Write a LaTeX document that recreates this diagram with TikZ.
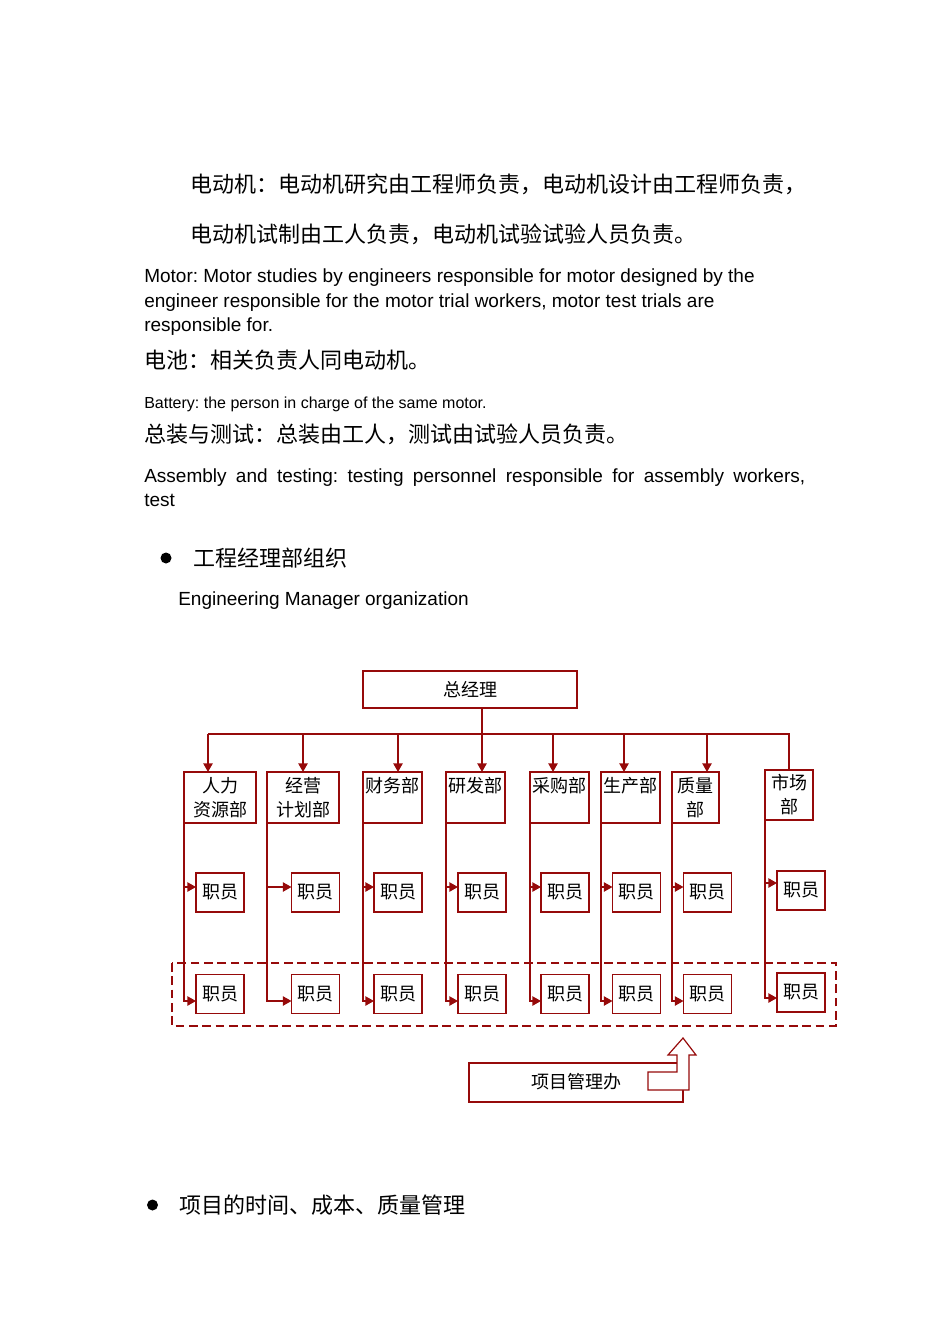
\documentclass[tikz,border=0pt]{standalone}
\usepackage{fontspec}
\setmainfont{Liberation Sans}
\newfontfamily\cjk{Noto Sans CJK SC}
\usetikzlibrary{arrows.meta,calc}
\definecolor{dred}{RGB}{150,10,10}
\frenchspacing
\begin{document}
\begin{tikzpicture}[x=0.75pt,y=-0.75pt,
  cnbig/.style={font=\cjk\fontsize{16.5pt}{20pt}\selectfont, anchor=base west, inner sep=0},
  en/.style={font=\fontsize{14.25pt}{18pt}\selectfont, anchor=base west, inner sep=0},
  ensmall/.style={font=\fontsize{12pt}{15pt}\selectfont, anchor=base west, inner sep=0},
  bullet/.style={circle, fill=black, minimum size=8.25pt, inner sep=0},
  box/.style={draw=dred, line width=0.9pt, fill=white, inner sep=0, outer sep=0, font=\cjk\fontsize{13.5pt}{18pt}\selectfont, align=center},
  staff/.style={box, minimum width=36pt, minimum height=29.25pt},
  dept/.style={box, minimum height=38.25pt},
  conn/.style={draw=dred, line width=1.1pt},
  arr/.style={conn, -{Triangle[length=6.5pt,width=7pt]}},
  heavy/.style={draw=dred, line width=1.6pt},
  dashbox/.style={draw=dred, line width=1pt, dash pattern=on 6.5pt off 3.5pt},
]
\useasboundingbox (0,0) rectangle (950,1344);
% ---------- text ----------
\node[cnbig] (l1) at (190,193) {电动机：电动机研究由工程师负责，电动机设计由工程师负责，};
\node[cnbig] (l2) at (190,243) {电动机试制由工人负责，电动机试验试验人员负责。};
\node[en] (e1) at (144,283) {Motor: Motor studies by engineers responsible for motor designed by the};
\node[en] (e2) at (144,307) {engineer responsible for the motor trial workers, motor test trials are};
\node[en] (e3) at (144,331) {responsible for.};
\node[cnbig] (l3) at (144,368) {电池：相关负责人同电动机。};
\node[ensmall] (e4) at (144,408) {Battery: the person in charge of the same motor.};
\node[cnbig] (l4) at (144,442) {总装与测试：总装由工人，测试由试验人员负责。};
\node[en] (e5) at (144,482) {\makebox[495.75pt][s]{Assembly and testing: testing personnel responsible for assembly workers,}};
\node[en] (e6) at (144,506) {test};
\node[bullet] (bu1) at (166,558) {};
\node[cnbig] (l5) at (193,566) {工程经理部组织};
\node[en] (e7) at (178,605) {Engineering Manager organization};
\node[bullet] (bu2) at (152.5,1205) {};
\node[cnbig] (l6) at (179,1213) {项目的时间、成本、质量管理};
% ---------- org chart ----------
\draw[dashbox] (172,963) rectangle (836,1026);
\node[box, minimum width=160.5pt, minimum height=27.75pt] (gm) at (470,689.5) {总经理};
\node[dept, minimum width=54pt] (hr) at (220,797.5) {人力\\资源部};
\node[dept, minimum width=54pt] (bp) at (303,797.5) {经营\\计划部};
\node[dept, minimum width=44.25pt] (fi) at (392.5,797.5) {财务部\\\phantom{部}};
\node[dept, minimum width=44.25pt] (rd) at (475.5,797.5) {研发部\\\phantom{部}};
\node[dept, minimum width=44.25pt] (pu) at (559.5,797.5) {采购部\\\phantom{部}};
\node[dept, minimum width=44.25pt] (pr) at (630.5,797.5) {生产部\\\phantom{部}};
\node[dept, minimum width=35.25pt] (qa) at (695.5,797.5) {质量\\部};
\node[box, minimum width=36pt, minimum height=37.5pt] (mk) at (789,795) {市场\\部};
\foreach \x [count=\i] in {220,315.5,398,482,565,636.5,707.5} {
  \node[staff] (s1\i) at (\x,892.5) {职员};
  \node[staff] (s2\i) at (\x,994) {职员};
}
\node[staff] (s18) at (801,890.5) {职员};
\node[staff] (s28) at (801,992.5) {职员};
% bus
\coordinate (b1) at (208,734);
\coordinate (b2) at (303,734);
\coordinate (b3) at (398,734);
\coordinate (b4) at (482,734);
\coordinate (b5) at (553,734);
\coordinate (b6) at (624,734);
\coordinate (b7) at (707,734);
\draw[conn] (b1) -- (b7);
\draw[conn] (b7) -- (mk.north |- b7) -- (mk.north);
\draw[arr] (gm.south -| b4) -- (b4 |- rd.north);
\foreach \b/\d in {b1/hr,b2/bp,b3/fi,b5/pu,b6/pr,b7/qa}
  \draw[arr] (\b) -- (\b |- \d.north);
% columns
\foreach \d/\i in {hr/1,bp/2,fi/3,rd/4,pu/5,pr/6,qa/7} {
  \coordinate (p1\i) at ($(s1\i.west)+(0,-5.5)$);
  \coordinate (p2\i) at ($(s2\i.west)+(0,7)$);
  \draw[arr] (\d.south west) |- (p2\i);
  \draw[arr] (\d.south west |- p1\i) -- (p1\i);
}
\coordinate (p18) at ($(s18.west)+(0,-7.5)$);
\coordinate (p28) at ($(s28.west)+(0,5.5)$);
\draw[arr] (mk.south west) |- (p28);
\draw[arr] (mk.south west |- p18) -- (p18);
% heavier edges
\foreach \n in {hr,bp,fi,rd,pu,pr,qa}
  \draw[heavy] (\n.south west) -- (\n.south east) -- (\n.north east);
\draw[heavy] (gm.north east) -- (gm.south east);
% project office
\node[box, minimum width=160.5pt, minimum height=29.25pt] (pm) at (576,1082.5) {\raisebox{2pt}{项目管理办}};
\draw[heavy] (pm.north west) -- (pm.north east);
\draw[dred, line width=0.9pt, fill=white] (648,1072) -- (677,1072) -- (677,1055) -- (668,1055) -- (683,1038) -- (696,1055) -- (689,1055) -- (689,1090) -- (648,1090) -- cycle;
\end{tikzpicture}
\end{document}
